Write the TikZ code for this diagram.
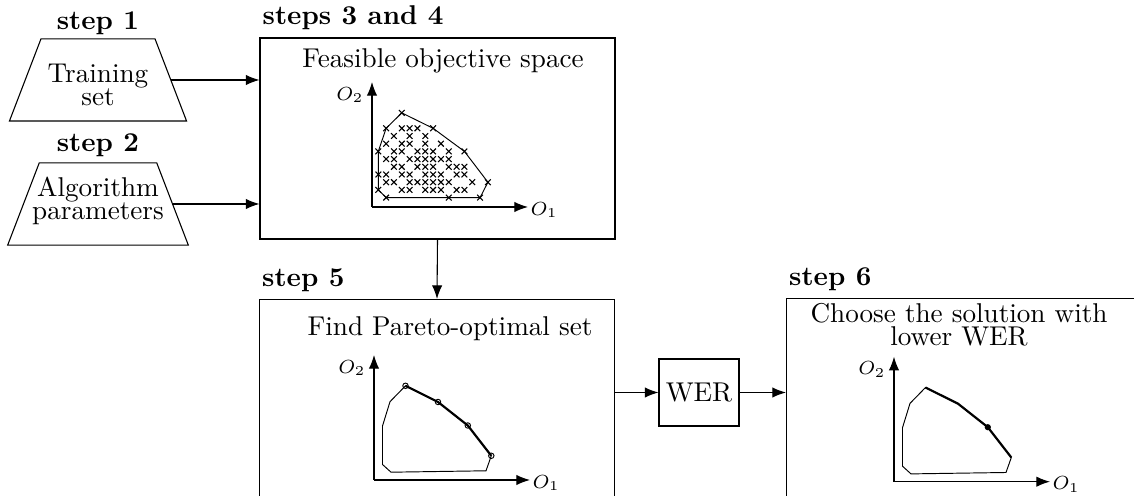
\documentclass[tikz,border=0pt]{standalone}
\usepackage{tikz}
\usetikzlibrary{arrows.meta, positioning, shapes.geometric}

\begin{document}
\begin{tikzpicture}[
    x=0.368pt, y=-0.368pt,
    >={Latex[length=5pt,width=3.8pt]},
    stepbox/.style={rectangle, draw, inner sep=0pt, minimum width=355*0.368pt, minimum height=201*0.368pt},
    inbox/.style={trapezium, draw, trapezium left angle=69, trapezium right angle=69, align=center,
        font={\fontsize{10pt}{8.3pt}\selectfont\lineskiplimit=-10pt}},
    steplabel/.style={font=\bfseries, inner sep=0pt},
    axlabel/.style={font=\scriptsize, inner sep=0pt},
    hullline/.style={line width=0.35pt},
    front/.style={line width=0.8pt},
    xmark/.style={line width=0.4pt},
    objaxes/.pic={
        \draw[->] (0,0) -- (0,-125);
        \draw[->] (0,0) -- (156,0);
        \node[axlabel, anchor=east] at (-8,-112) {$O_2$};
        \node[axlabel, anchor=west] at (158,3) {$O_1$};
    },
    hull/.pic={
        \draw[hullline] (31.5,-94.2) coordinate (-v1) -- (64,-78) coordinate (-v2)
            -- (93.8,-54.5) coordinate (-v3) -- (117.3,-24.2) coordinate (-v4)
            -- (112,-9.2) -- (17,-7.8) -- (8.5,-15.5) -- (8.5,-54) -- (16,-78.3) -- cycle;
    }
]
\useasboundingbox (0,0) rectangle (1134,496);

% Inputs
\node[inbox, inner xsep=2.5pt, inner ysep=5.65pt] (training) at (98,80) {\rule{0pt}{10.5pt}Training\\set};
\node[inbox, inner xsep=-2.6pt, inner ysep=5.35pt] (algo) at (98,204) {Algorithm\\parameters\rule[-4.1pt]{0pt}{4.1pt}};
\node[steplabel] (lab1) [above=1pt of training] {step 1};
\node[steplabel] (lab2) [above=1.8pt of algo] {step 2};

% Boxes
\node[stepbox] (feas) at (437.5,138.5) {};
\node[stepbox] (pareto) at (437,400) {};
\node[stepbox] (choose) at (964,399) {};
\node[draw, minimum width=80*0.368pt, minimum height=67*0.368pt, inner sep=0pt] (wer) at (699,392.5) {WER};

\node[steplabel] (lab34) [above right=2.8pt and 1pt of feas.north west] {steps 3 and 4};
\node[steplabel] (lab5) [above right=2.5pt and 1pt of pareto.north west] {step 5};
\node[steplabel] (lab6) [above right=2.5pt and 1pt of choose.north west] {step 6};

\node (feastxt) [anchor=base] at (443,68) {Feasible objective space};
\node (paretotxt) [anchor=base] at (450,335.5) {Find Pareto-optimal set};
\node (choosetxt) [align=center, inner sep=0pt, font={\fontsize{10pt}{8.5pt}\selectfont\lineskiplimit=-10pt}] at (959,325) {Choose the solution with\\lower WER};

% Feasible objective space
\pic (p34) at (372,207) {objaxes};
\begin{scope}[shift={(378.3,128.3)}, x=2.881pt, y=-2.834pt]
    \foreach \r/\cols in {-2/{3}, 0/{1,3,4,5,7}, 1/{2,4,6}, 2/{1,3,4,6,8}, 3/{0,2,3,5,6,7,9,11},
        4/{1,2,4,5,6,7,8,9}, 5/{2,3,5,6,7,9,10,11}, 6/{0,1,3,4,6,7,8,10,11},
        7/{1,2,4,5,6,7,8,9,12,14}, 8/{0,3,4,6,7,8,10,11}, 9/{1,9,13}}
        \foreach \c in \cols
            \draw[xmark] (\c,\r) +(-1.05pt,-1.05pt) -- +(1.05pt,1.05pt) +(-1.05pt,1.05pt) -- +(1.05pt,-1.05pt);
    \draw[hullline] (3,-2) -- (7,0) -- (11,3) -- (14,7) -- (13,9) -- (1,9) -- (0,8) -- (0,3) -- (1,0) -- cycle;
\end{scope}

% Pareto-optimal set
\pic (p5) at (374,480) {objaxes};
\pic (h5) at (374,480) {hull};
\draw[front] (h5-v1) -- (h5-v2) -- (h5-v3) -- (h5-v4);
\foreach \v in {1,...,4}
    \draw[hullline] (h5-v\v) circle (1pt);

% Chosen solution
\pic (p6) at (894,481.7) {objaxes};
\pic (h6) at (894,481.7) {hull};
\draw[front] (h6-v1) -- (h6-v2) -- (h6-v3) -- (h6-v4);
\fill (h6-v3) circle (1.15pt);

% Arrows
\draw[->] (training.east) -- (training.east -| feas.west);
\draw[->] (algo.east) -- (algo.east -| feas.west);
\draw[->] (feas.south) -- (pareto.north);
\draw[->] (pareto.east |- wer.west) -- (wer.west);
\draw[->] (wer.east) -- (wer.east -| choose.west);

\end{tikzpicture}
\end{document}
